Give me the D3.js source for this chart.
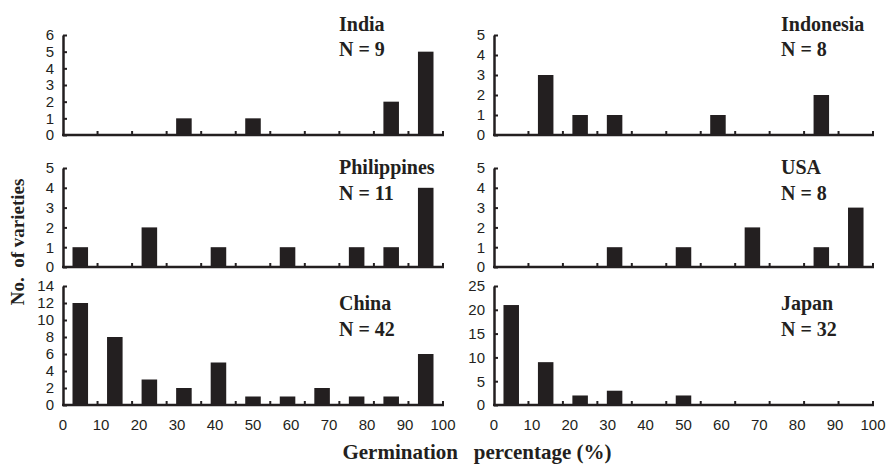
<!DOCTYPE html>
<html lang="en">
<head>
    <meta charset="UTF-8">
    <script src="https://d3js.org/d3.v7.min.js" charset="utf-8"></script>
    <title>Germination</title>
    <style>
        html, body {
            margin: 0;
            padding: 0;
            background: white;
        }
        .tick-label {
            font-family: "Liberation Sans Narrow", "Liberation Sans", Arial, sans-serif;
            font-size: 15px;
            fill: #231f20;
        }
        .title {
            font-family: "Liberation Serif", "Times New Roman", serif;
            font-weight: bold;
            fill: #231f20;
            white-space: pre;
        }
    </style>
</head>
<body>
<div id="chart"></div>

<script>
    const width = 887;
    const height = 465;

    // 11 germination classes on the x axis
    const categories = ["0", "10", "20", "30", "40", "50", "60", "70", "80", "90", "100"];
    const xTickLabels = [0, 10, 20, 30, 40, 50, 60, 70, 80, 90, 100];

    const countries = ["India", "Indonesia", "Philippines", "USA", "China", "Japan"];
    const sampleSizes = [9, 8, 11, 8, 42, 32];

    // number of varieties per class
    const india = [0, 0, 0, 1, 0, 1, 0, 0, 0, 2, 5];
    const indonesia = [0, 3, 1, 1, 0, 0, 1, 0, 0, 2, 0];
    const philippines = [1, 0, 2, 0, 1, 0, 1, 0, 1, 1, 4];
    const usa = [0, 0, 0, 1, 0, 1, 0, 2, 0, 1, 3];
    const china = [12, 8, 3, 2, 5, 1, 1, 2, 1, 1, 6];
    const japan = [21, 9, 2, 3, 0, 2, 0, 0, 0, 0, 0];

    const yMax = [6, 5, 5, 5, 14, 25];
    const yStep = [1, 1, 1, 1, 2, 5];

    const series = [india, indonesia, philippines, usa, china, japan];

    // panel geometry (left/right columns, three rows)
    const cols = [{x0: 63, x1: 443, tx: 339}, {x0: 494, x1: 873, tx: 781}];
    const rows = [
        {top: 35, base: 135, t1: 31, t2: 56},
        {top: 168, base: 267, t1: 174, t2: 200},
        {top: 286, base: 405, t1: 310, t2: 336}
    ];

    const ink = "#231f20";

    const svg = d3.select("#chart").append("svg")
        .attr("width", width)
        .attr("height", height);

    const drawPanel = (i) => {
        const col = cols[i % 2];
        const row = rows[Math.floor(i / 2)];
        const values = series[i];

        const x = d3.scaleBand()
            .domain(categories)
            .range([col.x0, col.x1])
            .padding(0);

        const y = d3.scaleLinear()
            .domain([0, yMax[i]])
            .range([row.base, row.top]);

        const g = svg.append("g");

        // bars
        const barW = x.bandwidth() * 0.45;
        g.selectAll("rect")
            .data(values)
            .enter()
            .append("rect")
            .attr("x", (d, j) => x(categories[j]) + (x.bandwidth() - barW) / 2)
            .attr("y", d => y(d))
            .attr("width", barW)
            .attr("height", d => row.base - y(d))
            .attr("fill", ink);

        // y axis with inward ticks
        const yAxis = d3.axisLeft(y)
            .tickValues(d3.range(0, yMax[i] + 0.001, yStep[i]))
            .tickFormat(d3.format("d"))
            .tickSizeInner(-4)
            .tickSizeOuter(0)
            .tickPadding(9);
        const ya = g.append("g")
            .attr("transform", `translate(${col.x0},0)`)
            .call(yAxis);
        ya.select(".domain").attr("stroke", ink).attr("stroke-width", 2.5);
        ya.selectAll(".tick line").attr("stroke", ink).attr("stroke-width", 2);
        ya.selectAll(".tick text").attr("class", "tick-label").attr("font-family", null).attr("font-size", null);

        // x axis: ticks at class boundaries, pointing up
        const bounds = categories.map(c => x(c) + x.bandwidth());
        g.append("line")
            .attr("x1", col.x0 - 1)
            .attr("x2", col.x1 + 1)
            .attr("y1", row.base)
            .attr("y2", row.base)
            .attr("stroke", ink)
            .attr("stroke-width", 2.5);
        g.selectAll(".xtick")
            .data(bounds)
            .enter()
            .append("line")
            .attr("class", "xtick")
            .attr("x1", d => d)
            .attr("x2", d => d)
            .attr("y1", row.base)
            .attr("y2", row.base - 4)
            .attr("stroke", ink)
            .attr("stroke-width", 2);

        // x labels only on the bottom row
        if (Math.floor(i / 2) === 2) {
            const xl = d3.scaleLinear().domain([0, 100]).range([col.x0, col.x1]);
            g.selectAll(".xlab")
                .data(xTickLabels)
                .enter()
                .append("text")
                .attr("class", "tick-label")
                .attr("x", d => xl(d))
                .attr("y", 430)
                .attr("text-anchor", "middle")
                .text(d => d);
        }

        // country label
        const t = g.append("text")
            .attr("class", "title")
            .attr("font-size", 20);
        t.append("tspan").attr("x", col.tx).attr("y", row.t1).text(countries[i]);
        t.append("tspan").attr("x", col.tx).attr("y", row.t2).text(`N = ${sampleSizes[i]}`);
    };

    for (let i = 0; i < countries.length; i++) {
        drawPanel(i);
    }

    // axis titles
    svg.append("text")
        .attr("class", "title")
        .attr("font-size", 19)
        .attr("text-anchor", "middle")
        .attr("transform", "translate(24,242) rotate(-90)")
        .text("No.  of varieties");

    svg.append("text")
        .attr("class", "title")
        .attr("font-size", 21)
        .attr("text-anchor", "middle")
        .attr("x", 477)
        .attr("y", 459)
        .text("Germination   percentage (%)");
</script>
</body>
</html>
